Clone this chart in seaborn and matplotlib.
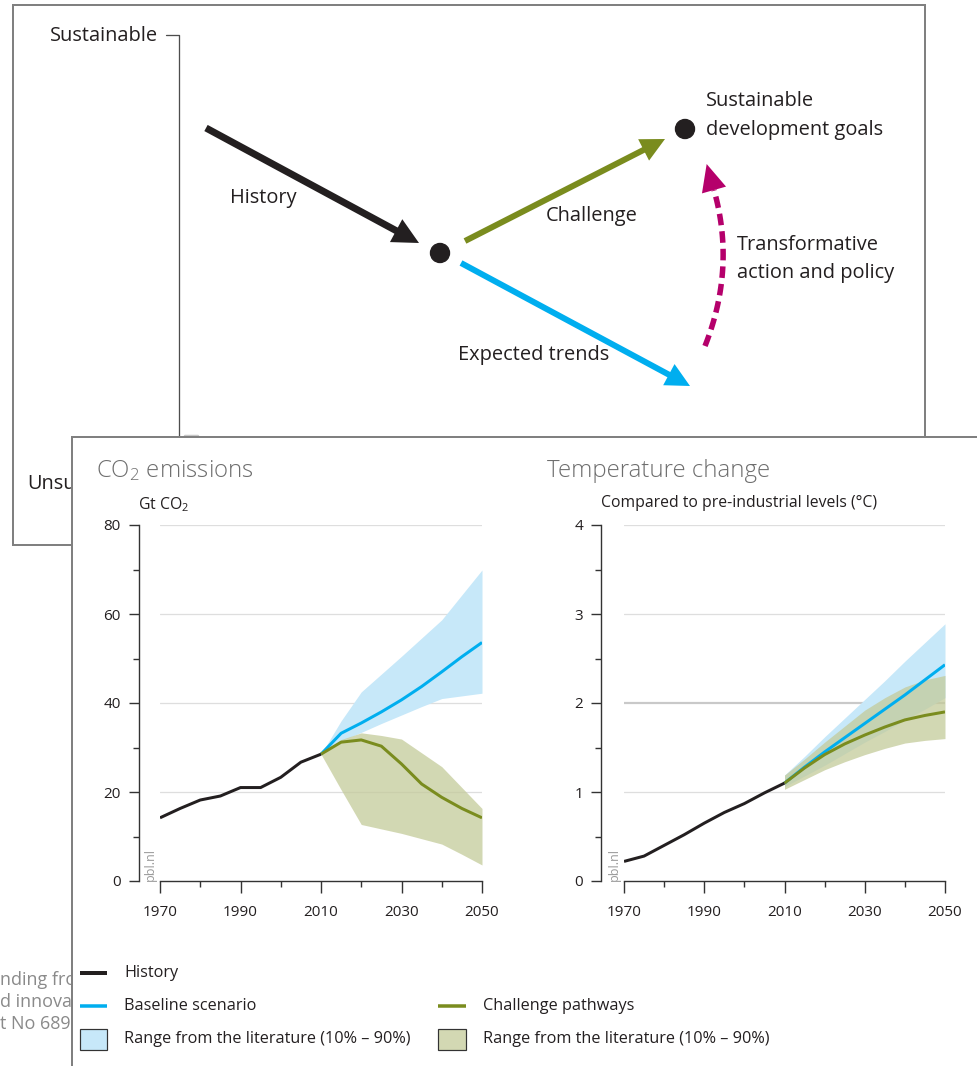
import numpy as np
import matplotlib
matplotlib.use("Agg")
import matplotlib.pyplot as plt
import seaborn as sns
from matplotlib.patches import Rectangle, Circle, Polygon

# ---------------------------------------------------------------- data
hist_years = [1970, 1975, 1980, 1985, 1990, 1995, 2000, 2005, 2010]
proj_years = [2010, 2015, 2020, 2025, 2030, 2035, 2040, 2045, 2050]
year_ticks = [1970, 1990, 2010, 2030, 2050]

# CO2 emissions (Gt CO2)
co2_history = [14.2, 16.3, 18.2, 19.1, 21.0, 21.0, 23.3, 26.7, 28.5]
co2_baseline = [28.5, 33.2, 35.5, 38.0, 40.7, 43.7, 47.0, 50.4, 53.6]
co2_challenge = [28.5, 31.2, 31.7, 30.3, 26.3, 21.8, 18.8, 16.3, 14.2]
co2_baseline_lo = [28.5, 31.5, 33.4, 35.4, 37.3, 39.2, 41.0, 41.6, 42.2]
co2_baseline_hi = [28.5, 36.0, 42.5, 46.5, 50.5, 54.6, 58.7, 64.3, 69.9]
co2_challenge_lo = [28.5, 20.5, 12.7, 11.7, 10.7, 9.5, 8.3, 6.0, 3.6]
co2_challenge_hi = [28.5, 31.8, 33.3, 32.7, 31.9, 28.8, 25.7, 21.0, 16.3]
co2_ticks = [0, 20, 40, 60, 80]

# Temperature change compared to pre-industrial levels (degC)
temp_history = [0.22, 0.28, 0.40, 0.52, 0.65, 0.77, 0.87, 0.99, 1.10]
temp_baseline = [1.10, 1.28, 1.45, 1.61, 1.77, 1.93, 2.09, 2.26, 2.43]
temp_challenge = [1.10, 1.27, 1.42, 1.54, 1.64, 1.73, 1.81, 1.86, 1.90]
temp_baseline_lo = [1.06, 1.18, 1.30, 1.43, 1.56, 1.68, 1.81, 1.93, 2.06]
temp_baseline_hi = [1.19, 1.40, 1.62, 1.83, 2.04, 2.25, 2.47, 2.68, 2.89]
temp_challenge_lo = [1.03, 1.14, 1.25, 1.34, 1.42, 1.49, 1.55, 1.58, 1.60]
temp_challenge_hi = [1.19, 1.37, 1.56, 1.74, 1.92, 2.06, 2.18, 2.26, 2.31]
temp_ticks = [0, 1, 2, 3, 4]

legend_labels = ["History", "Baseline scenario", "Range from the literature (10% \u2013 90%)",
                 "Challenge pathways", "Range from the literature (10% \u2013 90%)"]

# ---------------------------------------------------------------- style
sns.set_theme(style="white")
plt.rcParams["font.family"] = ["Open Sans", "DejaVu Sans"]
plt.rcParams["mathtext.fontset"] = "custom"
plt.rcParams["mathtext.rm"] = "Open Sans"
plt.rcParams["mathtext.it"] = "Open Sans:italic"
plt.rcParams["mathtext.bf"] = "Open Sans:bold"

C_BLACK = "#231f20"
C_BLUE = "#00aeef"
C_GREEN = "#7a8c1e"
C_MAGENTA = "#b5006b"
C_BLUE_BAND = "#c7e8f9"
C_GREEN_BAND = (196 / 255, 203 / 255, 154 / 255)
C_FRAME = "#808080"
C_AXIS = "#333333"
C_GRID = "#dedede"

W, H = 978, 1066
fig = plt.figure(figsize=(W / 100, H / 100), dpi=100)

# background canvas in pixel units (y downwards)
bg = fig.add_axes([0, 0, 1, 1])
bg.set_xlim(0, W)
bg.set_ylim(H, 0)
bg.axis("off")
bg.set_zorder(0)

PT = 0.72  # points per pixel at 100 dpi


def arrow(ax, start, tip, lw_px, head_len, head_w, color, z=4):
    start = np.asarray(start, float)
    tip = np.asarray(tip, float)
    d = tip - start
    d /= np.hypot(*d)
    perp = np.array([-d[1], d[0]])
    base = tip - d * head_len
    ax.plot([start[0], base[0] + d[0] * 2], [start[1], base[1] + d[1] * 2],
            color=color, lw=lw_px * PT, solid_capstyle="butt", zorder=z)
    ax.add_patch(Polygon([tip, base + perp * head_w / 2, base - perp * head_w / 2],
                         closed=True, fc=color, ec="none", zorder=z))


# --- conceptual diagram panel
bg.add_patch(Rectangle((13, 5), 912, 540, fc="white", ec=C_FRAME, lw=2 * PT, zorder=1))
bg.plot([166, 179, 179], [35, 35, 440], color="#4d4d4d", lw=1.3 * PT, zorder=2)
bg.plot([185, 198], [436, 436], color="#c8c8c8", lw=2.5 * PT, zorder=2)
DFS = 14.4
bg.text(158, 36, "Sustainable", ha="right", va="center", fontsize=DFS, color=C_BLACK, zorder=2)
unsus = bg.text(27, 484, "Unsustainable", ha="left", va="center", fontsize=DFS,
                color=C_BLACK, zorder=2)
unsus.set_clip_path(Rectangle((0, 0), 72, H, transform=bg.transData))

arrow(bg, (206, 128), (419, 243), 7, 26, 26, C_BLACK)
arrow(bg, (465, 241), (665, 139), 6, 24, 24, C_GREEN)
arrow(bg, (461, 263), (690, 386), 6, 24, 24, C_BLUE)
bg.add_patch(Circle((440, 253), 9.5, color=C_BLACK, zorder=5))
bg.add_patch(Circle((685, 129), 9.5, color=C_BLACK, zorder=5))

# dashed curved arrow
p0, p1, p2 = np.array([705, 346]), np.array([736, 268]), np.array([714, 190])
t = np.linspace(0, 1, 60)[:, None]
curve = (1 - t) ** 2 * p0 + 2 * (1 - t) * t * p1 + t ** 2 * p2
bg.plot(curve[:, 0], curve[:, 1], color=C_MAGENTA, lw=5.5 * PT,
        linestyle=(0, (2.1, 1.1)), dash_capstyle="butt", zorder=4)
dvec = (p2 - p1) / np.hypot(*(p2 - p1))
pvec = np.array([-dvec[1], dvec[0]])
tipm = p2 + dvec * 27
bg.add_patch(Polygon([tipm, p2 + pvec * 12.5, p2 - pvec * 12.5], closed=True,
                     fc=C_MAGENTA, ec="none", zorder=4))

dfont = dict(fontsize=DFS, color=C_BLACK, va="center", ha="left", zorder=5)
bg.text(230, 198, "History", **dfont)
bg.text(546, 216, "Challenge", **dfont)
bg.text(458, 355, "Expected trends", **dfont)
bg.text(706, 101, "Sustainable", **dfont)
bg.text(706, 130, "development goals", **dfont)
bg.text(737, 245, "Transformative", **dfont)
bg.text(737, 273, "action and policy", **dfont)

# page text partly hidden behind the chart panel
pfont = dict(fontsize=13, color="#8a8a8a", va="center", ha="left", zorder=2)
bg.text(0, 980, "nding from", **pfont)
bg.text(0, 1002, "d innovation", **pfont)
bg.text(0, 1024, "t No 689", **pfont)

# --- chart panel
bg.add_patch(Rectangle((72, 437), W, H, fc="white", ec=C_FRAME, lw=2 * PT, zorder=6))

tfont = dict(fontsize=17.3, color="#6e6e6e", va="center", ha="left", fontweight="light", zorder=7)
bg.text(96, 471, r"CO$_\mathregular{2}$ emissions", **tfont)
bg.text(547, 471, "Temperature change", **tfont)
sfont = dict(fontsize=11.3, color=C_BLACK, va="center", ha="left", zorder=7)
bg.text(138, 505, r"Gt CO$_\mathregular{2}$", **sfont)
bg.text(601, 503, "Compared to pre-industrial levels (\u00b0C)", **sfont)
for xp in (150, 614):
    bg.text(xp, 881, "pbl.nl", rotation=90, ha="center", va="bottom", fontsize=9,
            color="#9a9a9a", zorder=7)

# legend
lfont = dict(fontsize=11.7, color=C_BLACK, va="center", ha="left", zorder=7)
bg.plot([80, 107], [973, 973], color=C_BLACK, lw=4 * PT, solid_capstyle="butt", zorder=7)
bg.text(124, 973, legend_labels[0], **lfont)
bg.plot([80, 107], [1006, 1006], color=C_BLUE, lw=3.5 * PT, solid_capstyle="butt", zorder=7)
bg.text(124, 1006, legend_labels[1], **lfont)
bg.add_patch(Rectangle((80, 1029), 27, 21, fc=C_BLUE_BAND, ec=C_AXIS, lw=1.2 * PT, zorder=7))
bg.text(124, 1039, legend_labels[2], **lfont)
bg.plot([438, 466], [1006, 1006], color=C_GREEN, lw=3.5 * PT, solid_capstyle="butt", zorder=7)
bg.text(483, 1006, legend_labels[3], **lfont)
bg.add_patch(Rectangle((438, 1029), 28, 21, fc=(211 / 255, 216 / 255, 179 / 255), ec=C_AXIS,
                       lw=1.2 * PT, zorder=7))
bg.text(483, 1039, legend_labels[4], **lfont)


def chart_axes(x0, x1, spine_px, ticks, minor_ticks, strong=None):
    ax = fig.add_axes([x0 / W, (H - 881) / H, (x1 - x0) / W, 356 / H])
    ax.set_zorder(2)
    ax.set_facecolor("none")
    ax.set_xlim(1970, 2050)
    ax.set_ylim(ticks[0], ticks[-1])
    for s in ("top", "right"):
        ax.spines[s].set_visible(False)
    for s in ("left", "bottom"):
        ax.spines[s].set_color(C_AXIS)
        ax.spines[s].set_linewidth(1.4 * PT)
    ax.spines["left"].set_position(("outward", spine_px * PT))
    ax.spines["left"].set_bounds(ticks[0], ticks[-1])
    ax.spines["bottom"].set_bounds(1970, 2050)
    ax.set_xticks(year_ticks)
    ax.set_xticks([1980, 2000, 2020, 2040], minor=True)
    ax.set_yticks(ticks)
    ax.set_yticklabels([str(v) for v in ticks])
    ax.set_yticks(minor_ticks, minor=True)
    ax.tick_params(axis="both", which="both", color=C_AXIS, width=1.4 * PT,
                   labelsize=11, labelcolor=C_BLACK, direction="out")
    ax.tick_params(axis="y", which="major", length=10 * PT, pad=8 * PT, left=True)
    ax.tick_params(axis="y", which="minor", length=6 * PT, left=True)
    ax.tick_params(axis="x", which="major", length=12 * PT, pad=12 * PT, bottom=True)
    ax.tick_params(axis="x", which="minor", length=6 * PT, bottom=True)
    ax.grid(False)
    for v in ticks[1:]:
        if v == strong:
            ax.axhline(v, color="#c9c9c9", lw=2.2 * PT, zorder=0.5)
        else:
            ax.axhline(v, color=C_GRID, lw=1.3 * PT, zorder=0.5)
    ax.set_xlabel("")
    ax.set_ylabel("")
    return ax


def draw_series(ax, hist, base, chal, blo, bhi, clo, chi):
    ax.fill_between(proj_years, blo, bhi, color=C_BLUE_BAND, lw=0, zorder=1)
    ax.fill_between(proj_years, clo, chi, color=C_GREEN_BAND, alpha=0.75, lw=0, zorder=1.2)
    sns.lineplot(x=proj_years, y=base, ax=ax, color=C_BLUE, lw=3 * PT,
                 solid_capstyle="butt", zorder=3)
    sns.lineplot(x=proj_years, y=chal, ax=ax, color=C_GREEN, lw=3 * PT,
                 solid_capstyle="butt", zorder=3.2)
    sns.lineplot(x=hist_years, y=hist, ax=ax, color=C_BLACK, lw=3 * PT,
                 solid_capstyle="butt", zorder=3.4)
    ax.set_xlabel("")
    ax.set_ylabel("")


ax1 = chart_axes(160, 482, 21, co2_ticks, [10, 30, 50, 70])
draw_series(ax1, co2_history, co2_baseline, co2_challenge,
            co2_baseline_lo, co2_baseline_hi, co2_challenge_lo, co2_challenge_hi)

ax2 = chart_axes(624, 945, 23, temp_ticks, [0.5, 1.5, 2.5, 3.5], strong=2)
draw_series(ax2, temp_history, temp_baseline, temp_challenge,
            temp_baseline_lo, temp_baseline_hi, temp_challenge_lo, temp_challenge_hi)

fig.savefig("out.png", dpi=100)
